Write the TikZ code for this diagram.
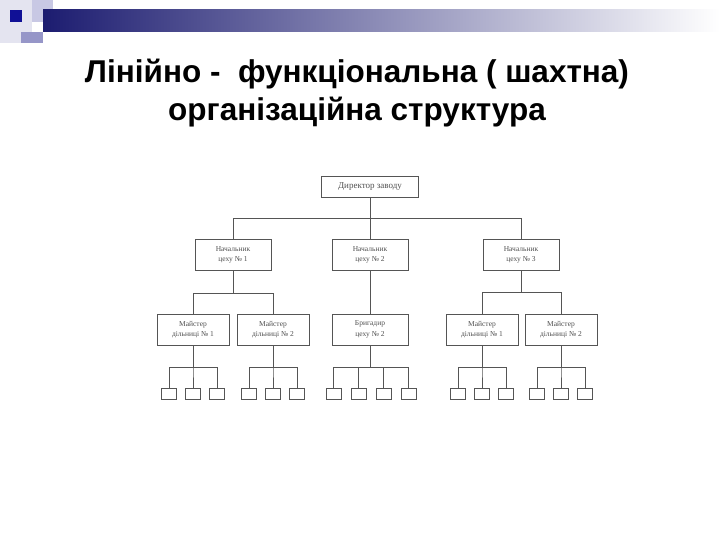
\documentclass[tikz,border=0pt]{standalone}
\usepackage{fontspec}
\setmainfont{Liberation Serif}
\newfontfamily\titlefont{Liberation Sans}
\usetikzlibrary{positioning}
\definecolor{hdrnavy}{RGB}{28,28,112}
\definecolor{hdrmid}{RGB}{150,150,180}
\definecolor{hdrblue}{RGB}{16,16,150}
\definecolor{hdrlav}{RGB}{200,200,228}
\definecolor{hdrpale}{RGB}{228,228,240}
\definecolor{hdrmed}{RGB}{150,150,200}
\definecolor{scanline}{RGB}{85,85,85}
\definecolor{scantext}{RGB}{80,80,80}

\begin{document}
\begin{tikzpicture}[
  x=1pt, y=-1pt,
  title/.style={font=\titlefont\fontsize{31.5}{38}\selectfont\bfseries, align=center, text=black},
  unit/.style={draw=scanline, line width=0.8pt, fill=white, inner sep=1pt,
               minimum width=72pt, minimum height=31pt, align=center,
               font=\fontsize{7.5}{10.5}\selectfont, text=scantext},
  head/.style={unit, minimum width=76pt},
  worker/.style={draw=scanline, line width=0.7pt, minimum width=15pt, minimum height=11pt, inner sep=0pt},
  link/.style={draw=scanline, line width=0.7pt}
]
  \useasboundingbox (0,0) rectangle (720,540);

  % header
  \fill[hdrpale] (0,0) rectangle (32,43);
  \fill[hdrlav] (32,0) rectangle (53,22);
  \shade[left color=hdrnavy, middle color=hdrmid, right color=white] (43,10) rectangle (720,32);
  \fill[hdrmed] (21,32) rectangle (43,43);
  \fill[hdrblue] (10,10) rectangle (22,22);

  \node[title, anchor=base] (title) at (357,121)
    {Лінійно -\ \ функціональна ( шахтна)\\організаційна структура};

  % top levels
  \node[unit, minimum width=97pt, minimum height=21pt, font=\fontsize{9}{11}\selectfont] (dir) at (370,186.5) {Директор заводу};
  \node[head] (shop1) at (233,255) {Начальник\\цеху № 1};
  \node[head] (shop2) at (370,255) {Начальник\\цеху № 2};
  \node[head] (shop3) at (521,255) {Начальник\\цеху № 3};

  \node[unit] (fore1) at (193,329.5) {Майстер\\дільниці № 1};
  \node[unit] (fore2) at (273,329.5) {Майстер\\дільниці № 2};
  \node[head] (brig)  at (370,329.5) {Бригадир\\цеху № 2};
  \node[unit] (fore3) at (482,329.5) {Майстер\\дільниці № 1};
  \node[unit] (fore4) at (561,329.5) {Майстер\\дільниці № 2};

  \draw[link] (dir.south) -- ++(0,21) -| (shop1.north);
  \draw[link] (dir.south) -- ++(0,21) -| (shop3.north);
  \draw[link] (dir.south) -- (shop2.north);

  \draw[link] (shop1.south) -- ++(0,22) -| (fore1.north);
  \draw[link] (shop1.south) -- ++(0,22) -| (fore2.north);
  \draw[link] (shop2.south) -- (brig.north);
  \draw[link] (shop3.south) -- ++(0,21) -| (fore3.north);
  \draw[link] (shop3.south) -- ++(0,21) -| (fore4.north);

  % workers
  \foreach \boss/\xs in {fore1/{169,193,217}, fore2/{249,273,297},
                          brig/{333.5,358.5,383.5,408.5},
                          fore3/{458,482,506}, fore4/{537,561,585}} {
    \foreach \x [count=\i] in \xs {
      \node[worker] (\boss-w\i) at (\x,393.5) {};
      \draw[link] (\boss.south) -- ++(0,22) -| (\boss-w\i.north);
    }
  }
\end{tikzpicture}
\end{document}
